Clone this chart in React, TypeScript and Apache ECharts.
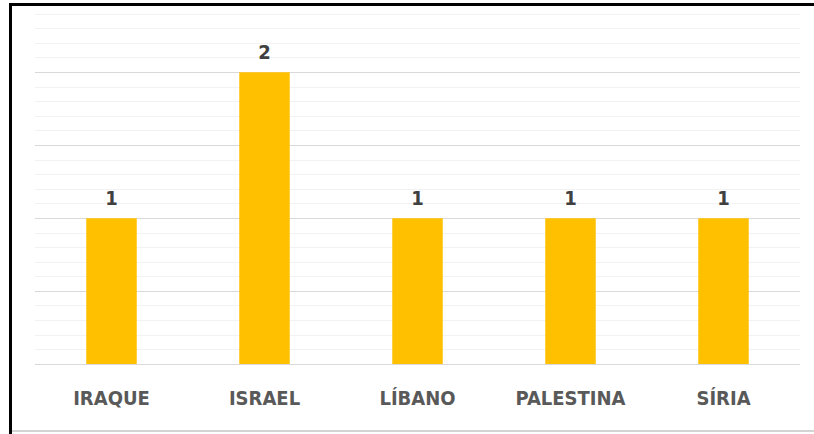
import React, { useEffect, useRef } from "react";
import * as echarts from "echarts";

const categories = ["IRAQUE", "ISRAEL", "LÍBANO", "PALESTINA", "SÍRIA"];
const values = [1, 2, 1, 1, 1];

export default function App() {
  const ref = useRef<HTMLDivElement>(null);
  useEffect(() => {
    if (!ref.current) return;
    const chart = echarts.init(ref.current, null, { renderer: "svg" });
    const font = "'DejaVu Sans Condensed', 'DejaVu Sans', sans-serif";
    chart.setOption({
      animation: false,
      backgroundColor: "#ffffff",
      grid: { left: 35, right: 14, top: 14, bottom: 70 },
      xAxis: {
        type: "category",
        data: categories,
        axisLine: { show: false },
        axisTick: { show: false },
        axisLabel: {
          fontSize: 20,
          fontWeight: "bold",
          color: "#595959",
          fontFamily: font,
          margin: 24,
        },
      },
      yAxis: {
        type: "value",
        min: 0,
        max: 2.4,
        interval: 0.1,
        axisLabel: { show: false },
        axisLine: { show: false },
        axisTick: { show: false },
        splitLine: {
          lineStyle: {
            color: ["#D9D9D9", "#F2F2F2", "#F2F2F2", "#F2F2F2", "#F2F2F2"],
            width: 1,
          },
        },
      },
      series: [
        {
          type: "bar",
          data: values,
          barWidth: "33%",
          itemStyle: { color: "#FFC000" },
          label: {
            show: true,
            position: "top",
            distance: 10,
            fontSize: 20,
            fontWeight: "bold",
            color: "#404040",
            fontFamily: font,
          },
        },
      ],
      graphic: [
        { type: "rect", shape: { x: 9, y: 3, width: 3, height: 431 }, style: { fill: "#000" } },
        { type: "rect", shape: { x: 9, y: 3, width: 805, height: 3 }, style: { fill: "#000" } },
        { type: "rect", shape: { x: 12, y: 430, width: 802, height: 2 }, style: { fill: "#D4D4D4" } },
      ],
    });
    return () => chart.dispose();
  }, []);
  return (
    <div
      ref={ref}
      style={{ position: "absolute", left: 0, top: 0, width: 814, height: 434 }}
    />
  );
}
